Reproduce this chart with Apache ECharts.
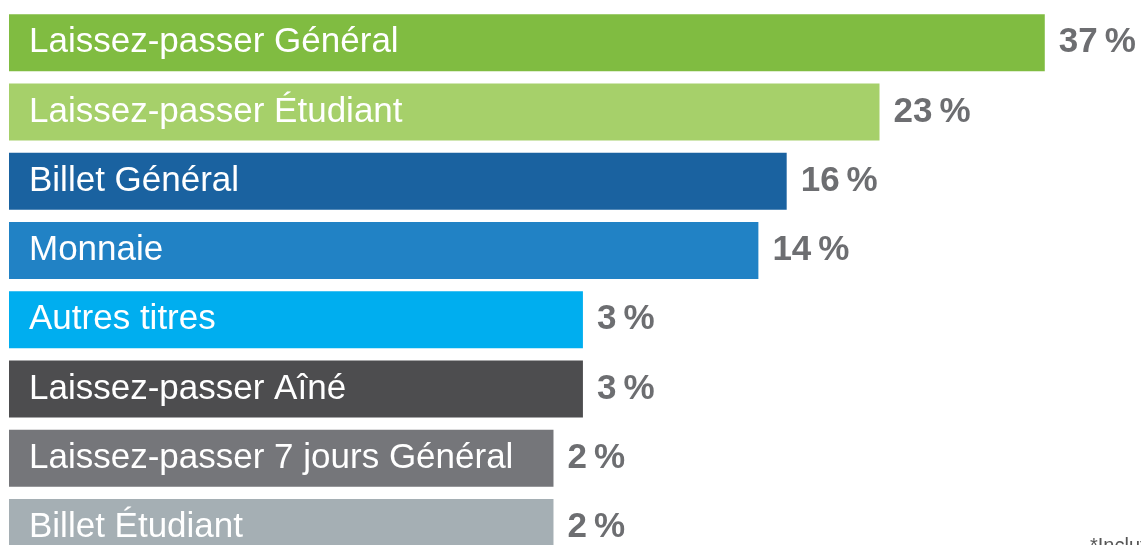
<!DOCTYPE html>
<html>
<head>
<meta charset="utf-8">
<script src="https://cdn.jsdelivr.net/npm/echarts@6/dist/echarts.min.js"></script>
<style>
	html, body {
		margin: 0;
		padding: 0;
		background: #ffffff;
	}
	#main {
		width: 1141px;
		height: 545px;
	}
</style>
</head>
<body>
<div id="main"></div>
<script>
	// categories, top to bottom
	var categories = [
		'Laissez-passer Général',
		'Laissez-passer Étudiant',
		'Billet Général',
		'Monnaie',
		'Autres titres',
		'Laissez-passer Aîné',
		'Laissez-passer 7 jours Général',
		'Billet Étudiant'
	];
	// printed shares (%)
	var shares = [37, 23, 16, 14, 3, 3, 2, 2];
	// drawn bar lengths (0-100 of the plot width)
	var barLengths = [91.5, 76.9, 68.7, 66.2, 50.7, 50.7, 48.1, 48.1];
	var barColors = ['#80bc41', '#a6d06a', '#1a62a0', '#2182c5', '#00aeef', '#4d4d4f', '#75767a', '#a5afb4'];

	var myChart = echarts.init(document.getElementById('main'));

	var seriesData = barLengths.map(function(v, i) {
		return {
			value: v,
			itemStyle: { color: barColors[i] }
		};
	});

	var option = {
		animation: false,
		textStyle: {
			fontFamily: '"Liberation Sans", Arial, sans-serif'
		},
		grid: {
			left: 9,
			right: 0,
			top: 8,
			height: 554,
			outerBoundsMode: 'none'
		},
		xAxis: {
			type: 'value',
			min: 0,
			max: 100,
			show: false
		},
		yAxis: {
			type: 'category',
			inverse: true,
			data: categories,
			show: false
		},
		series: [{
			type: 'bar',
			barWidth: 57,
			data: seriesData,
			label: {
				show: true,
				position: 'insideLeft',
				distance: 20,
				color: '#ffffff',
				fontSize: 35,
				fontFamily: '"Liberation Sans", Arial, sans-serif',
				formatter: function(p) {
					return categories[p.dataIndex];
				}
			}
		}, {
			// value labels at the bar ends
			type: 'bar',
			barWidth: 57,
			barGap: '-100%',
			silent: true,
			itemStyle: { color: 'rgba(0,0,0,0)' },
			data: barLengths,
			label: {
				show: true,
				position: 'right',
				distance: 14,
				color: '#6d6e71',
				fontSize: 35,
				fontWeight: 'bold',
				fontFamily: '"Liberation Sans", Arial, sans-serif',
				formatter: function(p) {
					return shares[p.dataIndex] + '\u2009%';
				}
			}
		}],
		graphic: [{
			type: 'text',
			left: 1090,
			top: 536,
			style: {
				text: '*Inclut',
				fill: '#555555',
				font: '20px "Liberation Sans", Arial, sans-serif'
			}
		}]
	};
	myChart.setOption(option);
</script>
</body>
</html>
